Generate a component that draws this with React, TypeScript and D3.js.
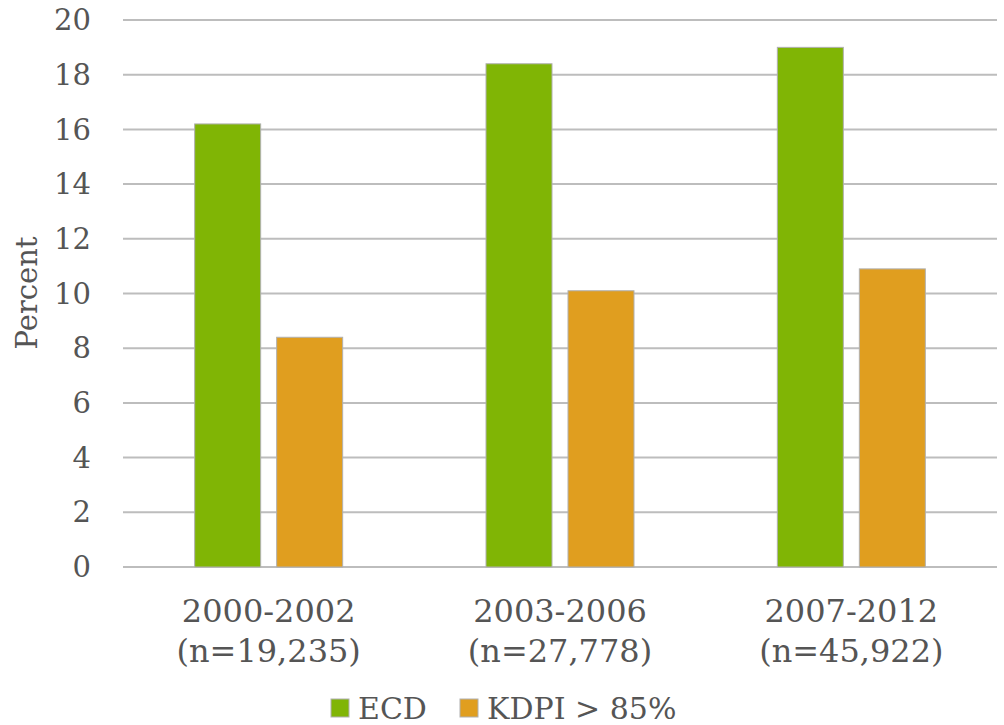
import React, { useEffect, useRef } from 'react';
import * as d3 from 'd3';

const periods = ['2000-2002', '2003-2006', '2007-2012'];
const counts = ['(n=19,235)', '(n=27,778)', '(n=45,922)'];
const seriesNames = ['ECD', 'KDPI > 85%'];
const ecdValues = [16.2, 18.4, 19.0];
const kdpiValues = [8.4, 10.1, 10.9];
const yTicks = [0, 2, 4, 6, 8, 10, 12, 14, 16, 18, 20];

const colors = ['#80b505', '#e09e1f'];
const textColor = '#555555';
const fontFamily = "Georgia, 'DejaVu Serif', serif";

const App = () => {
    const svgRef = useRef<SVGSVGElement>(null);

    useEffect(() => {
        const width = 1004;
        const height = 725;
        const left = 123;
        const right = 997;
        const top = 20;
        const bottom = 567;

        const svg = d3.select(svgRef.current);
        svg.selectAll('*').remove();

        const x = d3.scaleBand().domain(periods).range([left, right]);
        const y = d3.scaleLinear().domain([0, 20]).range([bottom, top]);
        const barW = 66;
        const gap = 16;

        // gridlines
        svg.append('g')
            .selectAll('line')
            .data(yTicks)
            .enter()
            .append('line')
            .attr('x1', left)
            .attr('x2', right)
            .attr('y1', (d) => y(d))
            .attr('y2', (d) => y(d))
            .attr('stroke', '#bdbdbd')
            .attr('stroke-width', 2);

        // y labels
        svg.append('g')
            .selectAll('text')
            .data(yTicks)
            .enter()
            .append('text')
            .attr('x', 91)
            .attr('y', (d) => y(d))
            .attr('dy', '0.35em')
            .attr('text-anchor', 'end')
            .attr('fill', textColor)
            .style('font-size', '29px')
            .text((d) => d);

        svg.append('text')
            .attr('transform', `translate(37,293) rotate(-90)`)
            .attr('text-anchor', 'middle')
            .attr('fill', textColor)
            .style('font-size', '29px')
            .text('Percent');

        const series = [ecdValues, kdpiValues];
        series.forEach((vals, si) => {
            svg.append('g')
                .selectAll('rect')
                .data(vals)
                .enter()
                .append('rect')
                .attr('x', (d, i) => x(periods[i])! + x.bandwidth() / 2 - gap / 2 - barW + si * (barW + gap))
                .attr('y', (d) => y(d))
                .attr('width', barW)
                .attr('height', (d) => y(0) - y(d))
                .attr('fill', colors[si])
                .attr('stroke', '#b0b0b0')
                .attr('stroke-width', 1);
        });

        // x labels
        const xl = svg.append('g')
            .selectAll('text')
            .data(periods)
            .enter()
            .append('text')
            .attr('x', (d) => x(d)! + x.bandwidth() / 2)
            .attr('y', 622)
            .attr('text-anchor', 'middle')
            .attr('fill', textColor)
            .style('font-size', '32px');
        xl.append('tspan').text((d) => d);
        xl.append('tspan')
            .attr('x', (d) => x(d)! + x.bandwidth() / 2)
            .attr('dy', 40)
            .text((d, i) => counts[i]);

        // legend
        const legendX = [331, 460];
        seriesNames.forEach((name, i) => {
            svg.append('rect')
                .attr('x', legendX[i])
                .attr('y', 699)
                .attr('width', 18)
                .attr('height', 18)
                .attr('fill', colors[i])
                .attr('stroke', '#b0b0b0')
                .attr('stroke-width', 1);
            svg.append('text')
                .attr('x', legendX[i] + 27)
                .attr('y', 719)
                .attr('fill', textColor)
                .style('font-size', '30px')
                .text(name);
        });

        svg.attr('width', width).attr('height', height);
    }, []);

    return (
        <svg
            ref={svgRef}
            width={1004}
            height={725}
            style={{ position: 'absolute', left: 0, top: 0, background: '#fff', fontFamily, fontVariantNumeric: 'oldstyle-nums' }}
        ></svg>
    );
};

export default App;
